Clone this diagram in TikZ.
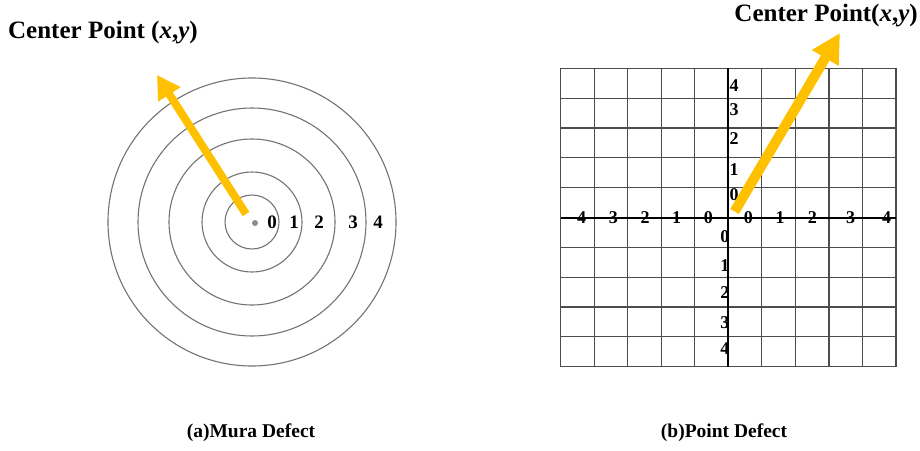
\documentclass[tikz,border=0pt]{standalone}
\usepackage{fontspec}
\setmainfont{Liberation Serif}
\usetikzlibrary{arrows.meta}
\definecolor{gold}{RGB}{255,192,0}
\begin{document}
\begin{tikzpicture}[x=1pt,y=-1pt,
  ring/.style={draw=black!55, line width=1.1pt},
  gridline/.style={draw=black!70, line width=1.2pt},
  axisline/.style={draw=black, line width=2pt},
  arrA/.style={draw=gold, line width=8pt, -{Triangle[length=23pt,width=25pt]}},
  arrB/.style={draw=gold, line width=10pt, -{Triangle[length=29pt,width=29pt]}},
  title/.style={font=\bfseries\fontsize{25}{28}\selectfont, inner sep=0pt},
  caption/.style={font=\bfseries\fontsize{19.5}{22}\selectfont, inner sep=0pt},
  ringnum/.style={font=\bfseries\fontsize{19}{21}\selectfont, inner sep=0pt},
  gridnum/.style={font=\bfseries\fontsize{18}{20}\selectfont, inner sep=0pt}]
\useasboundingbox (0,0) rectangle (920,450);

% ---------- (a) Mura defect ----------
\foreach \r in {27,50,83,114,144}
  \draw[ring] (252,222) circle[radius=\r pt];
\fill[black!45] (255,223) circle[radius=3pt];
\node[ringnum] (r0) at (272,222) {0};
\node[ringnum] (r1) at (294,222) {1};
\node[ringnum] (r2) at (319,222) {2};
\node[ringnum] (r3) at (353,222) {3};
\node[ringnum] (r4) at (378,222) {4};
\coordinate (tailA) at (246,214);
\coordinate (tipA) at (157,75);
\draw[arrA] (tailA) -- (tipA);
\node[title, anchor=west] (tA) at (8,33) {Center Point (\textit{x},\textit{y})};
\node[caption] (capA) at (251,433) {(a)Mura Defect};

% ---------- (b) Point defect ----------
\foreach \i in {0,...,10} {
  \draw[gridline] ({560.7+33.53*\i},68.3) -- ({560.7+33.53*\i},366.7);
  \draw[gridline] (560.7,{68.3+29.84*\i}) -- (896,{68.3+29.84*\i});
}
\foreach \x/\t [count=\k] in {581.7/4,613.3/3,645/2,676.7/1,708.3/0,748.3/0,780/1,812.3/2,850.7/3,886.7/4}
  \node[gridnum] (hx\k) at (\x,217.3) {\t};
\foreach \y/\t [count=\k] in {86/4,110/3,139/2,170/1,195/0}
  \node[gridnum, anchor=west] (vu\k) at (729.5,\y) {\t};
\foreach \y/\t [count=\k] in {237/0,266/1,293/2,323/3,349/4}
  \node[gridnum, anchor=east] (vd\k) at (729.5,\y) {\t};
\draw[axisline] (560.7,217.5) -- (896,217.5);
\draw[axisline] (728.35,68.3) -- (728.35,366.7);
\coordinate (tailB) at (734.5,211.5);
\coordinate (tipB) at (840,33);
\draw[arrB] (tailB) -- (tipB);
\node[title, anchor=east] (tB) at (918,16) {Center Point(\textit{x},\textit{y})};
\node[caption] (capB) at (724,433) {(b)Point Defect};
\end{tikzpicture}
\end{document}
